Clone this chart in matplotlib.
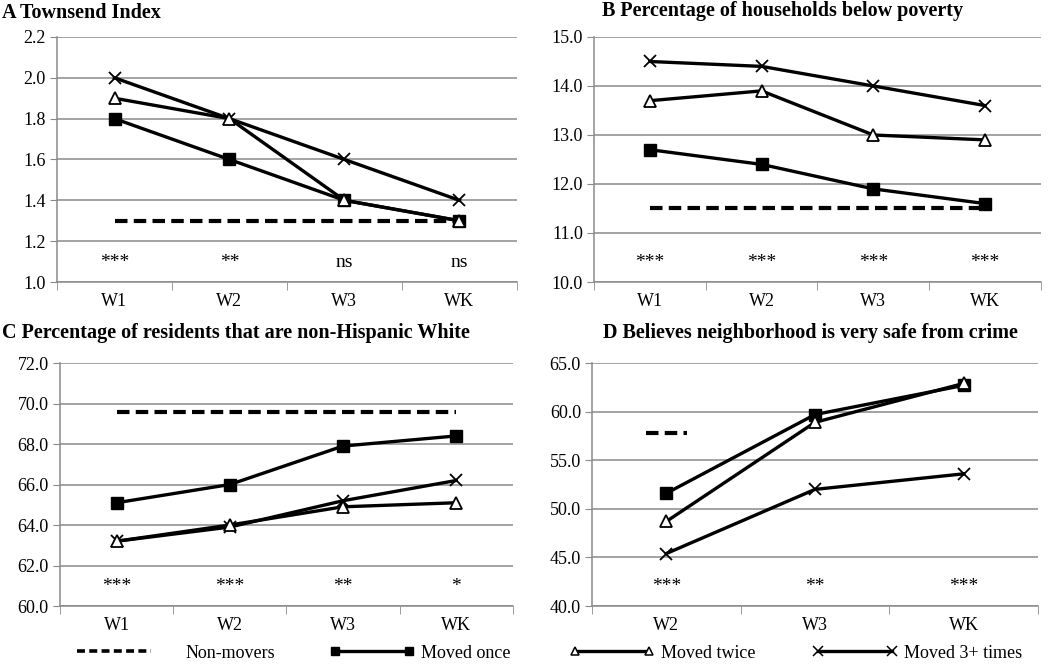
import matplotlib.pyplot as plt
from matplotlib.lines import Line2D

plt.rcParams['font.family'] = ['Liberation Serif', 'DejaVu Serif']

waves_abc = ['W1', 'W2', 'W3', 'WK']
waves_d = ['W2', 'W3', 'WK']

# A Townsend index
a_non = [1.3, 1.3, 1.3, 1.3]
a_once = [1.8, 1.6, 1.4, 1.3]
a_twice = [1.9, 1.8, 1.4, 1.3]
a_three = [2.0, 1.8, 1.6, 1.4]
a_sig = ['***', '**', 'ns', 'ns']

# B households below poverty
b_non = [11.5, 11.5, 11.5, 11.5]
b_once = [12.7, 12.4, 11.9, 11.6]
b_twice = [13.7, 13.9, 13.0, 12.9]
b_three = [14.5, 14.4, 14.0, 13.6]
b_sig = ['***', '***', '***', '***']

# C non-Hispanic White
c_non = [69.6, 69.6, 69.6, 69.6]
c_once = [65.1, 66.0, 67.9, 68.4]
c_twice = [63.2, 64.0, 64.9, 65.1]
c_three = [63.2, 63.9, 65.2, 66.2]
c_sig = ['***', '***', '**', '*']

# D very safe from crime (non-movers only at W2)
d_non = [57.8]
d_once = [51.6, 59.7, 62.7]
d_twice = [48.7, 58.9, 62.9]
d_three = [45.4, 52.0, 53.6]
d_sig = ['***', '**', '***']

labels = ['Non-movers', 'Moved once', 'Moved twice', 'Moved 3+ times']

grey = '#8a8a8a'
LW = 2.4

fig = plt.figure(figsize=(10.5, 6.64), dpi=100)

def panel(rect, cats, non, once, twice, three, sig, ylim, step, title, tx, ty, ha):
    ax = fig.add_axes(rect)
    x = list(range(len(cats)))
    if len(non) == len(cats):
        ax.plot(x, non, color='black', lw=3, ls=(0, (3, 1.5)), zorder=3)
    else:
        xs = list(range(len(non)))
        ax.hlines(non, [i - 0.14 for i in xs], [i + 0.14 for i in xs], color='black', lw=3,
                  linestyles=(0, (3, 1.5)), zorder=3)
    ax.plot(x, once, color='black', lw=LW, marker='s', ms=8, mfc='black', zorder=4)
    ax.plot(x, twice, color='black', lw=LW, marker='^', ms=8, mfc='white', mec='black', mew=1.3, zorder=5)
    ax.plot(x, three, color='black', lw=LW, marker='x', ms=8, mew=1.3, zorder=4)
    for i, s in enumerate(sig):
        ax.text(i, 0.08, s, transform=ax.get_xaxis_transform(), ha='center', va='center', fontsize=14)
    ax.set_xlim(-0.5, len(cats) - 0.5)
    ax.set_ylim(*ylim)
    ticks = [ylim[0] + k * step for k in range(int(round((ylim[1] - ylim[0]) / step)) + 1)]
    ax.set_yticks(ticks)
    ax.set_yticklabels(['%.1f' % t for t in ticks], fontsize=13)
    ax.set_xticks(x)
    ax.set_xticklabels(cats, fontsize=13)
    ax.set_xticks([i - 0.5 for i in range(len(cats) + 1)], minor=True)
    ax.tick_params(axis='x', which='major', length=0, pad=8)
    ax.tick_params(axis='x', which='minor', length=6, color=grey, direction='out')
    ax.tick_params(axis='y', length=5, color=grey, direction='out', pad=3)
    ax.grid(axis='y', color=grey, lw=1.1)
    ax.set_axisbelow(True)
    for s in ['top', 'right']:
        ax.spines[s].set_visible(False)
    for s in ['left', 'bottom']:
        ax.spines[s].set_color(grey)
        ax.spines[s].set_linewidth(1.1)
    fig.text(tx, ty, title, ha=ha, va='center', fontsize=14.5, fontweight='bold')
    return ax

panel([0.0543, 0.5753, 0.438, 0.369], waves_abc, a_non, a_once, a_twice, a_three, a_sig,
      (1.0, 2.2), 0.2, 'A Townsend Index', 0.002, 1 - 13 / 664, 'left')
panel([0.5657, 0.5753, 0.4257, 0.369], waves_abc, b_non, b_once, b_twice, b_three, b_sig,
      (10.0, 15.0), 1.0, 'B Percentage of households below poverty', 783 / 1050, 1 - 11 / 664, 'center')
panel([0.0571, 0.0873, 0.4314, 0.366], waves_abc, c_non, c_once, c_twice, c_three, c_sig,
      (60.0, 72.0), 2.0, 'C Percentage of residents that are non-Hispanic White', 0.002, 1 - 333 / 664, 'left')
panel([0.5638, 0.0873, 0.4248, 0.366], waves_d, d_non, d_once, d_twice, d_three, d_sig,
      (40.0, 65.0), 5.0, 'D Believes neighborhood is very safe from crime', 810 / 1050, 1 - 333 / 664, 'center')

# legend: one entry per block, spread along the bottom like the original
handles = [
    Line2D([], [], color='black', lw=2.6, ls=(0, (2.2, 1.2))),
    Line2D([], [], color='black', lw=LW, marker='s', ms=6, markevery=[0, -1]),
    Line2D([], [], color='black', lw=LW, marker='^', ms=6, mfc='white', mew=1.1, markevery=[0, -1]),
    Line2D([], [], color='black', lw=LW, marker='x', ms=7, mew=1.1, markevery=[0, -1]),
]
starts = [72, 330, 570, 813]
gaps = [1.6, 0.35, 0.35, 0.35]
for h, lab, x0, g in zip(handles, labels, starts, gaps):
    fig.legend([h], [lab], loc='center left', bbox_to_anchor=(x0 / 1050, 1 - 653 / 664),
               frameon=False, fontsize=13, handlelength=4.7, handletextpad=g,
               borderpad=0, borderaxespad=0, numpoints=2)

fig.savefig('out.png', dpi=100)
